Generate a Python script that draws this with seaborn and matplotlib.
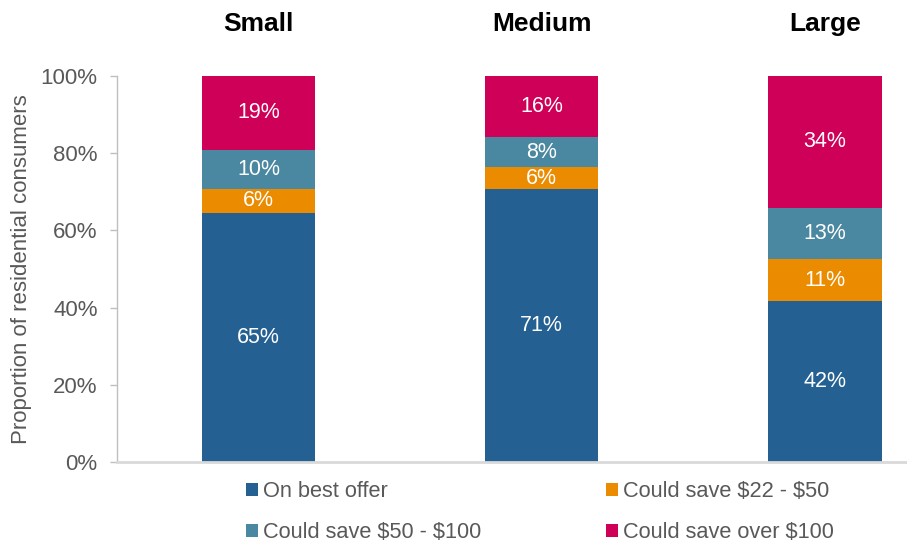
import matplotlib
matplotlib.use("Agg")
import matplotlib.pyplot as plt
from matplotlib.patches import Patch
from matplotlib.ticker import FixedLocator, FuncFormatter
import seaborn as sns
import numpy as np

# Retailer size groups and share of residential consumers (%) in each savings band
categories = ["Small", "Medium", "Large"]
on_best_offer = [64.6, 70.6, 41.7]
save_22_50 = [6.2, 5.8, 10.8]
save_50_100 = [10.1, 7.7, 13.4]
save_over_100 = [19.1, 15.9, 34.1]

series_names = ["On best offer", "Could save $22 - $50",
                "Could save $50 - $100", "Could save over $100"]
series_values = [on_best_offer, save_22_50, save_50_100, save_over_100]
series_colors = ["#246192", "#EB8B00", "#4A87A0", "#CF0057"]
y_ticks = [0, 20, 40, 60, 80, 100]

sns.set_theme(style="white")
plt.rcParams["font.family"] = ["Liberation Sans", "DejaVu Sans"]
plt.rcParams["text.parse_math"] = False

text_grey = "#595959"

fig = plt.figure(figsize=(9.07, 5.45), dpi=100)
ax = fig.add_axes([117 / 907, 1 - 462 / 545, 1 - 117 / 907, (462 - 76) / 545])

bottoms = np.zeros(len(categories))
for name, vals, col in zip(series_names, series_values, series_colors):
    vals = np.asarray(vals, dtype=float)
    sns.barplot(x=categories, y=vals, bottom=bottoms, color=col, width=0.4,
                ax=ax, saturation=1, linewidth=0)
    for i, v in enumerate(vals):
        ax.text(i, bottoms[i] + v / 2, f"{v:.0f}%", ha="center", va="center",
                color="white", fontsize=15.5)
    bottoms += vals

ax.set_xlim(-0.5, 2.29)
ax.set_ylim(0, 100)
ax.yaxis.set_major_locator(FixedLocator(y_ticks))
ax.yaxis.set_major_formatter(FuncFormatter(lambda v, p: f"{v:.0f}%"))
ax.tick_params(axis="y", which="major", length=5, width=1, color="#BFBFBF",
               labelsize=16, labelcolor=text_grey, pad=9, left=True)

ax.xaxis.tick_top()
ax.tick_params(axis="x", length=0, pad=29, labelsize=19, labelcolor="black")
for lbl in ax.get_xticklabels():
    lbl.set_fontweight("bold")

ax.set_ylabel("Proportion of residential consumers", fontsize=16,
              color=text_grey, labelpad=6)
ax.set_xlabel("")

for side in ["top", "right"]:
    ax.spines[side].set_visible(False)
ax.spines["left"].set_color("#BFBFBF")
ax.spines["left"].set_linewidth(1)
ax.spines["bottom"].set_color("#D9D9D9")
ax.spines["bottom"].set_linewidth(2)

handles = [Patch(facecolor=c, edgecolor="none") for c in series_colors]
order = [0, 2, 1, 3]
leg = fig.legend([handles[i] for i in order], [series_names[i] for i in order],
                 ncol=2, loc="lower left", bbox_to_anchor=(246 / 907, 2 / 545),
                 frameon=False, fontsize=15.7, handlelength=0.55,
                 handleheight=0.55, handletextpad=0.25, columnspacing=5.7,
                 labelspacing=0.9, borderaxespad=0, borderpad=0)
for t in leg.get_texts():
    t.set_color(text_grey)

fig.savefig("out.png", dpi=100)
